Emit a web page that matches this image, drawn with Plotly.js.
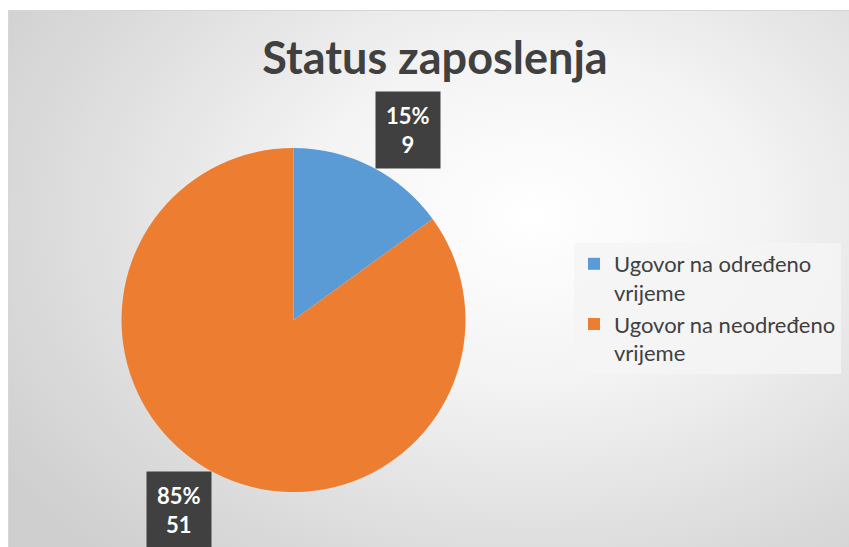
<!DOCTYPE html>
<html>
<head>
<meta charset="utf-8">
<script src="https://cdn.plot.ly/plotly-3.0.1.min.js"></script>
<style>
  html, body { margin: 0; padding: 0; background: #ffffff; }
  #bg {
    position: absolute; left: 8px; top: 10px; width: 845px; height: 540px;
    border: 1px solid #d6d6d6;
    background: radial-gradient(ellipse 75% 85% at 62% 38%, #ffffff 0%, #f4f4f4 35%, #dcdcdc 75%, #cfcfcf 100%);
  }
  #chart { position: absolute; left: 0; top: 0; width: 849px; height: 547px; }
</style>
</head>
<body>
<div id="bg"></div>
<div id="chart"></div>
<script>
const categories = ['Ugovor na određeno<br>vrijeme', 'Ugovor na neodređeno<br>vrijeme'];
const values = [9, 51];
const colors = ['#5B9BD5', '#ED7D31'];
const chartTitle = 'Status zaposlenja';

const domX = [121 / 849, 466 / 849];
const domY = [(547 - 492) / 547, (547 - 148) / 547];

const total = values.reduce((a, b) => a + b, 0);
const cx = (domX[0] + domX[1]) / 2 * 849;
const cy = 547 - (domY[0] + domY[1]) / 2 * 547;
const r = 172;
const labelDist = 1.29;
const angleShift = 4 * Math.PI / 180;

const annotations = [];
let cum = 0;
values.forEach((v, i) => {
  const mid = (cum + v / 2) / total * 2 * Math.PI + angleShift;
  cum += v;
  const px = cx + Math.sin(mid) * r * labelDist;
  const py = cy - Math.cos(mid) * r * labelDist;
  annotations.push({
    xref: 'paper', yref: 'paper',
    x: px / 849, y: 1 - py / 547,
    xanchor: 'center', yanchor: 'middle',
    showarrow: false,
    text: '<b>' + Math.round(v / total * 100) + '%<br>' + v + '</b>',
    font: { family: 'Lato, sans-serif', size: 22, color: '#ffffff' },
    bgcolor: '#404040',
    borderpad: 10,
    align: 'center'
  });
});

const data = [{
  type: 'pie',
  labels: categories,
  values: values,
  marker: { colors: colors },
  sort: false,
  direction: 'clockwise',
  rotation: 0,
  textinfo: 'none',
  hoverinfo: 'label+value+percent',
  domain: { x: domX, y: domY }
}];

const layout = {
  width: 849, height: 547,
  margin: { l: 0, r: 0, t: 0, b: 0 },
  paper_bgcolor: 'rgba(0,0,0,0)',
  plot_bgcolor: 'rgba(0,0,0,0)',
  title: {
    text: '<b>' + chartTitle + '</b>',
    font: { family: 'Lato, sans-serif', size: 45, color: '#404040' },
    x: 435 / 849, xanchor: 'center',
    y: 1 - 58 / 547, yanchor: 'middle'
  },
  showlegend: true,
  legend: {
    x: 574 / 849, y: 1 - 243 / 547,
    xanchor: 'left', yanchor: 'top',
    bgcolor: 'rgba(245,245,245,0.85)',
    font: { family: 'Lato, sans-serif', size: 22, color: '#404040' },
    valign: 'top',
    itemwidth: 30
  },
  annotations: annotations
};

Plotly.newPlot('chart', data, layout, { displayModeBar: false, staticPlot: true });
</script>
</body>
</html>
